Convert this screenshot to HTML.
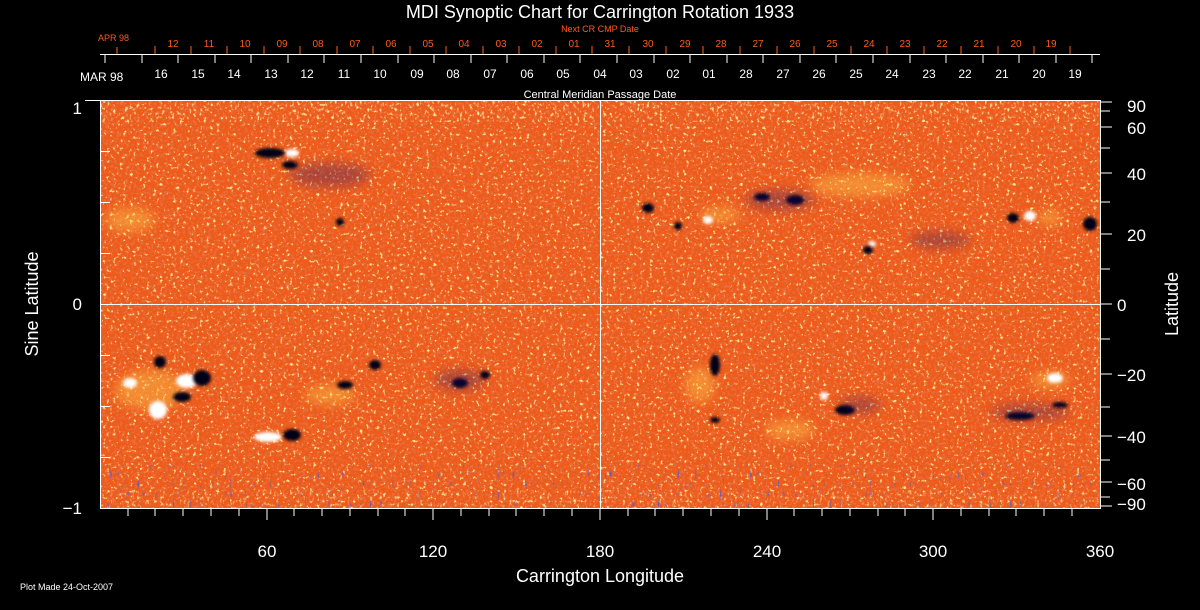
<!DOCTYPE html>
<html><head><meta charset="utf-8"><style>
html,body{margin:0;padding:0;background:#000;}
svg{display:block;font-family:"Liberation Sans","DejaVu Sans",sans-serif;}
</style></head><body>
<svg width="1200" height="610" viewBox="0 0 1200 610" xmlns="http://www.w3.org/2000/svg">
<defs>
<filter id="yel" x="0" y="0" width="100%" height="100%">
<feTurbulence type="fractalNoise" baseFrequency="0.3" numOctaves="2" seed="3"/>
<feColorMatrix type="matrix" values="0 0 0 0 1  0 0 0 0 0.8  0 0 0 0 0.3  6 0 0 0 -3.7"/>
</filter>
<filter id="drk" x="0" y="0" width="100%" height="100%">
<feTurbulence type="fractalNoise" baseFrequency="0.35" numOctaves="2" seed="9"/>
<feColorMatrix type="matrix" values="0 0 0 0 0.8  0 0 0 0 0.15  0 0 0 0 0.05  0 5 0 0 -2.4"/>
</filter>
<filter id="blue" x="0" y="0" width="100%" height="100%">
<feTurbulence type="fractalNoise" baseFrequency="0.4 0.1" numOctaves="1" seed="5"/>
<feColorMatrix type="matrix" values="0 0 0 0 0.1  0 0 0 0 0.1  0 0 0 0 0.6  0 0 6 0 -4"/>
</filter>
<filter id="pole" x="0" y="0" width="100%" height="100%">
<feTurbulence type="fractalNoise" baseFrequency="0.4 0.25" numOctaves="1" seed="7"/>
<feColorMatrix type="matrix" values="0 0 0 0 1  0 0 0 0 0.9  0 0 0 0 0.4  5 0 0 0 -3"/>
</filter>
<filter id="bl" x="-50%" y="-50%" width="200%" height="200%"><feGaussianBlur stdDeviation="1.5"/></filter>
<filter id="bl4" x="-50%" y="-50%" width="200%" height="200%"><feGaussianBlur stdDeviation="5"/></filter>
<clipPath id="pc"><rect x="100" y="100" width="1000" height="408"/></clipPath>
</defs>

<text x="600" y="18" fill="#fff" font-size="18" text-anchor="middle">MDI Synoptic Chart for Carrington Rotation 1933</text>
<text x="600" y="32" fill="#ff5a1e" font-size="9" text-anchor="middle">Next CR CMP Date</text>
<text x="98" y="41" fill="#ff5a1e" font-size="9">APR 98</text>
<g fill="#ff5a1e" font-size="10" text-anchor="middle">
<text x="173" y="47">12</text><text x="209" y="47">11</text><text x="245" y="47">10</text><text x="282" y="47">09</text><text x="318" y="47">08</text><text x="355" y="47">07</text><text x="391" y="47">06</text><text x="428" y="47">05</text><text x="464" y="47">04</text><text x="501" y="47">03</text><text x="537" y="47">02</text><text x="574" y="47">01</text><text x="610" y="47">31</text><text x="648" y="47">30</text><text x="685" y="47">29</text><text x="721" y="47">28</text><text x="758" y="47">27</text><text x="795" y="47">26</text><text x="832" y="47">25</text><text x="869" y="47">24</text><text x="905" y="47">23</text><text x="942" y="47">22</text><text x="979" y="47">21</text><text x="1016" y="47">20</text><text x="1051" y="47">19</text>
</g>
<g stroke="#ff5a1e" stroke-width="1">
<line x1="117" y1="47" x2="117" y2="54"/>
<line x1="155" y1="46" x2="155" y2="54"/><line x1="191" y1="46" x2="191" y2="54"/><line x1="227" y1="46" x2="227" y2="54"/><line x1="264" y1="46" x2="264" y2="54"/><line x1="300" y1="46" x2="300" y2="54"/><line x1="337" y1="46" x2="337" y2="54"/><line x1="373" y1="46" x2="373" y2="54"/><line x1="410" y1="46" x2="410" y2="54"/><line x1="446" y1="46" x2="446" y2="54"/><line x1="483" y1="46" x2="483" y2="54"/><line x1="519" y1="46" x2="519" y2="54"/><line x1="556" y1="46" x2="556" y2="54"/><line x1="592" y1="46" x2="592" y2="54"/><line x1="629" y1="46" x2="629" y2="54"/><line x1="666" y1="46" x2="666" y2="54"/><line x1="703" y1="46" x2="703" y2="54"/><line x1="740" y1="46" x2="740" y2="54"/><line x1="777" y1="46" x2="777" y2="54"/><line x1="814" y1="46" x2="814" y2="54"/><line x1="851" y1="46" x2="851" y2="54"/><line x1="887" y1="46" x2="887" y2="54"/><line x1="924" y1="46" x2="924" y2="54"/><line x1="961" y1="46" x2="961" y2="54"/><line x1="998" y1="46" x2="998" y2="54"/><line x1="1034" y1="46" x2="1034" y2="54"/><line x1="1070" y1="46" x2="1070" y2="54"/>
</g>
<line x1="100" y1="54.5" x2="1100" y2="54.5" stroke="#fff"/>
<g stroke="#fff" stroke-width="1">
<line x1="105" y1="55" x2="105" y2="63"/><line x1="142" y1="55" x2="142" y2="63"/><line x1="178" y1="55" x2="178" y2="63"/><line x1="215" y1="55" x2="215" y2="63"/><line x1="251" y1="55" x2="251" y2="63"/><line x1="288" y1="55" x2="288" y2="63"/><line x1="324" y1="55" x2="324" y2="63"/><line x1="361" y1="55" x2="361" y2="63"/><line x1="398" y1="55" x2="398" y2="63"/><line x1="434" y1="55" x2="434" y2="63"/><line x1="471" y1="55" x2="471" y2="63"/><line x1="507" y1="55" x2="507" y2="63"/><line x1="544" y1="55" x2="544" y2="63"/><line x1="580" y1="55" x2="580" y2="63"/><line x1="617" y1="55" x2="617" y2="63"/><line x1="654" y1="55" x2="654" y2="63"/><line x1="690" y1="55" x2="690" y2="63"/><line x1="727" y1="55" x2="727" y2="63"/><line x1="763" y1="55" x2="763" y2="63"/><line x1="800" y1="55" x2="800" y2="63"/><line x1="836" y1="55" x2="836" y2="63"/><line x1="873" y1="55" x2="873" y2="63"/><line x1="910" y1="55" x2="910" y2="63"/><line x1="946" y1="55" x2="946" y2="63"/><line x1="983" y1="55" x2="983" y2="63"/><line x1="1019" y1="55" x2="1019" y2="63"/><line x1="1056" y1="55" x2="1056" y2="63"/><line x1="1092" y1="55" x2="1092" y2="63"/>
</g>
<text x="80" y="81" fill="#fff" font-size="12">MAR 98</text>
<g fill="#fff" font-size="12" text-anchor="middle">
<text x="161" y="78">16</text><text x="198" y="78">15</text><text x="234" y="78">14</text><text x="271" y="78">13</text><text x="307" y="78">12</text><text x="344" y="78">11</text><text x="380" y="78">10</text><text x="417" y="78">09</text><text x="453" y="78">08</text><text x="490" y="78">07</text><text x="527" y="78">06</text><text x="563" y="78">05</text><text x="600" y="78">04</text><text x="636" y="78">03</text><text x="673" y="78">02</text><text x="709" y="78">01</text><text x="746" y="78">28</text><text x="783" y="78">27</text><text x="819" y="78">26</text><text x="856" y="78">25</text><text x="892" y="78">24</text><text x="929" y="78">23</text><text x="965" y="78">22</text><text x="1002" y="78">21</text><text x="1039" y="78">20</text><text x="1075" y="78">19</text>
</g>
<text x="600" y="98" fill="#fff" font-size="11" text-anchor="middle">Central Meridian Passage Date</text>

<g clip-path="url(#pc)">
<rect x="100" y="100" width="1000" height="408" fill="#ee5a18"/>
<rect x="100" y="100" width="1000" height="408" filter="url(#drk)"/>
<rect x="100" y="100" width="1000" height="408" filter="url(#yel)"/>
<rect x="100" y="100" width="1000" height="22" filter="url(#pole)"/>
<rect x="100" y="465" width="1000" height="43" filter="url(#blue)"/>
<rect x="100" y="490" width="1000" height="18" filter="url(#pole)" opacity="0.7"/>
<g fill="#ffd050" opacity="0.4" filter="url(#bl4)">
<ellipse cx="150" cy="390" rx="35" ry="20"/><ellipse cx="330" cy="395" rx="25" ry="10"/><ellipse cx="700" cy="385" rx="15" ry="18"/>
<ellipse cx="790" cy="430" rx="25" ry="10"/><ellipse cx="860" cy="185" rx="50" ry="12"/><ellipse cx="1050" cy="380" rx="20" ry="8"/>
<ellipse cx="130" cy="220" rx="25" ry="12"/><ellipse cx="720" cy="215" rx="20" ry="8"/><ellipse cx="1050" cy="218" rx="12" ry="8"/>
</g>
<g fill="#fff" filter="url(#bl)">
<ellipse cx="187" cy="381" rx="11" ry="7"/><ellipse cx="158" cy="410" rx="9" ry="9"/><ellipse cx="130" cy="383" rx="7" ry="5"/>
<ellipse cx="268" cy="437" rx="14" ry="5"/><ellipse cx="292" cy="153" rx="7" ry="4"/><ellipse cx="872" cy="244" rx="4" ry="3"/>
<ellipse cx="1030" cy="216" rx="6" ry="5"/><ellipse cx="824" cy="396" rx="4" ry="4"/><ellipse cx="1055" cy="378" rx="8" ry="5"/><ellipse cx="708" cy="220" rx="5" ry="4"/>
</g>
<g fill="#000018" filter="url(#bl)">
<ellipse cx="270" cy="153" rx="15" ry="5"/><ellipse cx="290" cy="165" rx="8" ry="4"/><ellipse cx="160" cy="362" rx="6" ry="6"/>
<ellipse cx="202" cy="378" rx="9" ry="8"/><ellipse cx="182" cy="397" rx="9" ry="5"/><ellipse cx="292" cy="435" rx="9" ry="6"/>
<ellipse cx="375" cy="365" rx="6" ry="5"/><ellipse cx="345" cy="385" rx="8" ry="4"/><ellipse cx="460" cy="383" rx="8" ry="5"/><ellipse cx="485" cy="375" rx="5" ry="4"/>
<ellipse cx="715" cy="365" rx="5" ry="11"/><ellipse cx="648" cy="208" rx="6" ry="5"/><ellipse cx="678" cy="226" rx="4" ry="4"/>
<ellipse cx="762" cy="197" rx="8" ry="4"/><ellipse cx="795" cy="200" rx="9" ry="5"/><ellipse cx="868" cy="250" rx="5" ry="4"/>
<ellipse cx="1013" cy="218" rx="6" ry="5"/><ellipse cx="1090" cy="224" rx="7" ry="7"/><ellipse cx="845" cy="410" rx="10" ry="5"/>
<ellipse cx="1020" cy="416" rx="15" ry="4"/><ellipse cx="1060" cy="405" rx="8" ry="3"/><ellipse cx="340" cy="222" rx="4" ry="4"/><ellipse cx="715" cy="420" rx="5" ry="3"/>
</g>
<g fill="#201070" opacity="0.3" filter="url(#bl4)">
<ellipse cx="330" cy="175" rx="40" ry="12"/><ellipse cx="460" cy="380" rx="25" ry="10"/><ellipse cx="780" cy="200" rx="35" ry="10"/><ellipse cx="1030" cy="412" rx="40" ry="8"/><ellipse cx="940" cy="240" rx="30" ry="8"/><ellipse cx="860" cy="405" rx="20" ry="8"/>
</g>
</g>
<rect x="100.5" y="100.5" width="1000" height="408" fill="none" stroke="#fff"/>
<line x1="85" y1="100.5" x2="1100" y2="100.5" stroke="#fff"/>
<line x1="600.5" y1="100" x2="600.5" y2="508" stroke="#fff"/>
<line x1="100" y1="304.5" x2="1100" y2="304.5" stroke="#fff"/>
<g stroke="#fff">
<line x1="100" y1="151.5" x2="110" y2="151.5"/><line x1="100" y1="202.5" x2="110" y2="202.5"/><line x1="100" y1="253.5" x2="110" y2="253.5"/>
<line x1="100" y1="355.5" x2="110" y2="355.5"/><line x1="100" y1="406.5" x2="110" y2="406.5"/><line x1="100" y1="457.5" x2="110" y2="457.5"/>
</g>
<g fill="#fff" font-size="17" text-anchor="end">
<text x="82" y="114">1</text><text x="82" y="310">0</text><text x="82" y="514">−1</text>
</g>
<text transform="translate(38,304) rotate(-90)" fill="#fff" font-size="18" text-anchor="middle">Sine Latitude</text>
<g stroke="#fff">
<line x1="1100" y1="102" x2="1112" y2="102"/><line x1="1100" y1="111" x2="1110" y2="111"/><line x1="1100" y1="127" x2="1112" y2="127"/><line x1="1100" y1="148" x2="1110" y2="148"/>
<line x1="1100" y1="173" x2="1112" y2="173"/><line x1="1100" y1="202" x2="1110" y2="202"/><line x1="1100" y1="234" x2="1112" y2="234"/><line x1="1100" y1="269" x2="1110" y2="269"/>
<line x1="1100" y1="304" x2="1112" y2="304"/><line x1="1100" y1="339" x2="1110" y2="339"/><line x1="1100" y1="374" x2="1112" y2="374"/><line x1="1100" y1="407" x2="1110" y2="407"/>
<line x1="1100" y1="436" x2="1112" y2="436"/><line x1="1100" y1="460" x2="1110" y2="460"/><line x1="1100" y1="482" x2="1112" y2="482"/><line x1="1100" y1="497" x2="1110" y2="497"/><line x1="1100" y1="506" x2="1112" y2="506"/>
</g>
<g fill="#fff" font-size="17">
<text x="1127" y="112">90</text><text x="1127" y="134">60</text><text x="1127" y="180">40</text><text x="1127" y="241">20</text>
<text x="1117" y="311">0</text><text x="1117" y="381">−20</text><text x="1117" y="443">−40</text><text x="1117" y="490">−60</text><text x="1117" y="510">−90</text>
</g>
<text transform="translate(1178,304) rotate(-90)" fill="#fff" font-size="18" text-anchor="middle">Latitude</text>
<g stroke="#fff">
<line x1="128" y1="508" x2="128" y2="516"/><line x1="155" y1="508" x2="155" y2="516"/><line x1="183" y1="508" x2="183" y2="516"/><line x1="211" y1="508" x2="211" y2="516"/><line x1="239" y1="508" x2="239" y2="516"/><line x1="267" y1="508" x2="267" y2="520"/>
<line x1="294" y1="508" x2="294" y2="516"/><line x1="322" y1="508" x2="322" y2="516"/><line x1="350" y1="508" x2="350" y2="516"/><line x1="378" y1="508" x2="378" y2="516"/><line x1="405" y1="508" x2="405" y2="516"/><line x1="433" y1="508" x2="433" y2="520"/>
<line x1="461" y1="508" x2="461" y2="516"/><line x1="489" y1="508" x2="489" y2="516"/><line x1="516" y1="508" x2="516" y2="516"/><line x1="544" y1="508" x2="544" y2="516"/><line x1="572" y1="508" x2="572" y2="516"/><line x1="600" y1="508" x2="600" y2="520"/>
<line x1="628" y1="508" x2="628" y2="516"/><line x1="655" y1="508" x2="655" y2="516"/><line x1="683" y1="508" x2="683" y2="516"/><line x1="711" y1="508" x2="711" y2="516"/><line x1="739" y1="508" x2="739" y2="516"/><line x1="767" y1="508" x2="767" y2="520"/>
<line x1="794" y1="508" x2="794" y2="516"/><line x1="822" y1="508" x2="822" y2="516"/><line x1="850" y1="508" x2="850" y2="516"/><line x1="878" y1="508" x2="878" y2="516"/><line x1="905" y1="508" x2="905" y2="516"/><line x1="933" y1="508" x2="933" y2="520"/>
<line x1="961" y1="508" x2="961" y2="516"/><line x1="989" y1="508" x2="989" y2="516"/><line x1="1016" y1="508" x2="1016" y2="516"/><line x1="1044" y1="508" x2="1044" y2="516"/><line x1="1072" y1="508" x2="1072" y2="516"/>
</g>
<g fill="#fff" font-size="17" text-anchor="middle">
<text x="267" y="557">60</text><text x="433" y="557">120</text><text x="600" y="557">180</text><text x="767" y="557">240</text><text x="933" y="557">300</text><text x="1100" y="557">360</text>
</g>
<text x="600" y="582" fill="#fff" font-size="18" text-anchor="middle">Carrington Longitude</text>
<text x="20" y="590" fill="#fff" font-size="9">Plot Made 24-Oct-2007</text>
</svg>
</body></html>
